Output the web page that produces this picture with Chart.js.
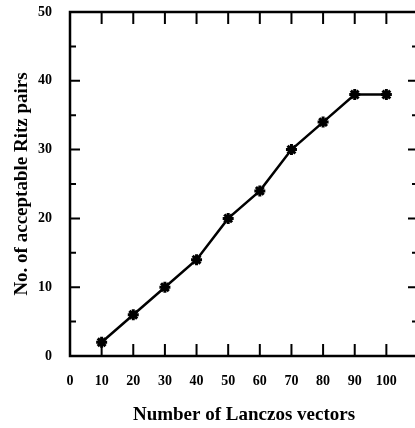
<!DOCTYPE html>
<html>
<head>
<meta charset="utf-8">
<script src="https://cdn.jsdelivr.net/npm/chart.js@4/dist/chart.umd.min.js"></script>
<style>
  html, body { margin: 0; padding: 0; background: #fff; overflow: hidden; }
  #wrap { width: 440px; height: 428px; }
</style>
</head>
<body>
<div id="wrap"><canvas id="grafico"></canvas></div>
<script>
const vectores = [10, 20, 30, 40, 50, 60, 70, 80, 90, 100];
const paresRitz = [2, 6, 10, 14, 20, 24, 30, 34, 38, 38];
const xEtiquetas = [0, 10, 20, 30, 40, 50, 60, 70, 80, 90, 100];
const yEtiquetas = [0, 10, 20, 30, 40, 50];

const fuente = "'Liberation Serif', 'DejaVu Serif', serif";

// marco y marcas hacia dentro en los cuatro lados
const marcoPlugin = {
    id: 'marco',
    afterDraw(chart) {
        const ctx = chart.ctx;
        const a = chart.chartArea;
        const x = chart.scales.x;
        const y = chart.scales.y;
        ctx.save();
        ctx.strokeStyle = '#000';
        ctx.lineWidth = 2.5;
        ctx.strokeRect(a.left, a.top, a.right - a.left, a.bottom - a.top);
        ctx.lineWidth = 2;
        ctx.beginPath();
        x.ticks.forEach(t => {
            if (t.value <= 0 || t.value > 100) return;
            const px = x.getPixelForValue(t.value);
            ctx.moveTo(px, a.bottom);
            ctx.lineTo(px, a.bottom - 12);
            ctx.moveTo(px, a.top);
            ctx.lineTo(px, a.top + 12);
        });
        y.ticks.forEach(t => {
            if (t.value <= 0 || t.value >= 50) return;
            const py = y.getPixelForValue(t.value);
            const largo = t.value % 10 === 0 ? 10 : 6;
            ctx.moveTo(a.left, py);
            ctx.lineTo(a.left + largo, py);
            ctx.moveTo(a.right, py);
            ctx.lineTo(a.right - largo, py);
        });
        ctx.stroke();
        ctx.restore();
    }
};

const ctx = document.getElementById('grafico');

new Chart(ctx, {
    type: 'line',
    data: {
        datasets: [{
            data: vectores.map((v, i) => ({ x: v, y: paresRitz[i] })),
            borderColor: '#000',
            borderWidth: 2.5,
            pointStyle: 'star',
            pointRadius: 5.5,
            pointBorderWidth: 3,
            pointBorderColor: '#000',
            pointBackgroundColor: '#000',
            tension: 0
        }]
    },
    options: {
        responsive: true,
        maintainAspectRatio: false,
        animation: false,
        layout: { padding: { top: 12, right: 22, left: 0, bottom: 0 } },
        plugins: { legend: { display: false }, tooltip: { enabled: false } },
        scales: {
            x: {
                type: 'linear',
                min: 0,
                max: 110,
                afterFit(s) { s.height = 72; s.paddingLeft = 0; s.paddingRight = 0; },
                afterBuildTicks(s) { s.ticks = xEtiquetas.concat([110]).map(v => ({ value: v })); },
                grid: { display: false, drawTicks: false },
                border: { display: false },
                ticks: {
                    padding: 17,
                    color: '#000',
                    font: { family: fuente, size: 14, weight: 'bold' },
                    callback: v => xEtiquetas.includes(v) ? String(v) : ''
                },
                title: {
                    display: true,
                    text: 'Number of Lanczos vectors',
                    color: '#000',
                    font: { family: fuente, size: 19, weight: 'bold' },
                    padding: { top: 0, bottom: 2 }
                }
            },
            y: {
                min: 0,
                max: 50,
                afterFit(s) { s.width = 70; s.paddingTop = 0; s.paddingBottom = 0; },
                grid: { display: false, drawTicks: false },
                border: { display: false },
                ticks: {
                    stepSize: 5,
                    padding: 18,
                    color: '#000',
                    font: { family: fuente, size: 14, weight: 'bold' },
                    callback: v => yEtiquetas.includes(v) ? String(v) : ''
                },
                title: {
                    display: true,
                    text: 'No. of acceptable Ritz pairs',
                    color: '#000',
                    font: { family: fuente, size: 19, weight: 'bold' },
                    padding: { top: 11, bottom: 0 }
                }
            }
        }
    },
    plugins: [marcoPlugin]
});
</script>
</body>
</html>
